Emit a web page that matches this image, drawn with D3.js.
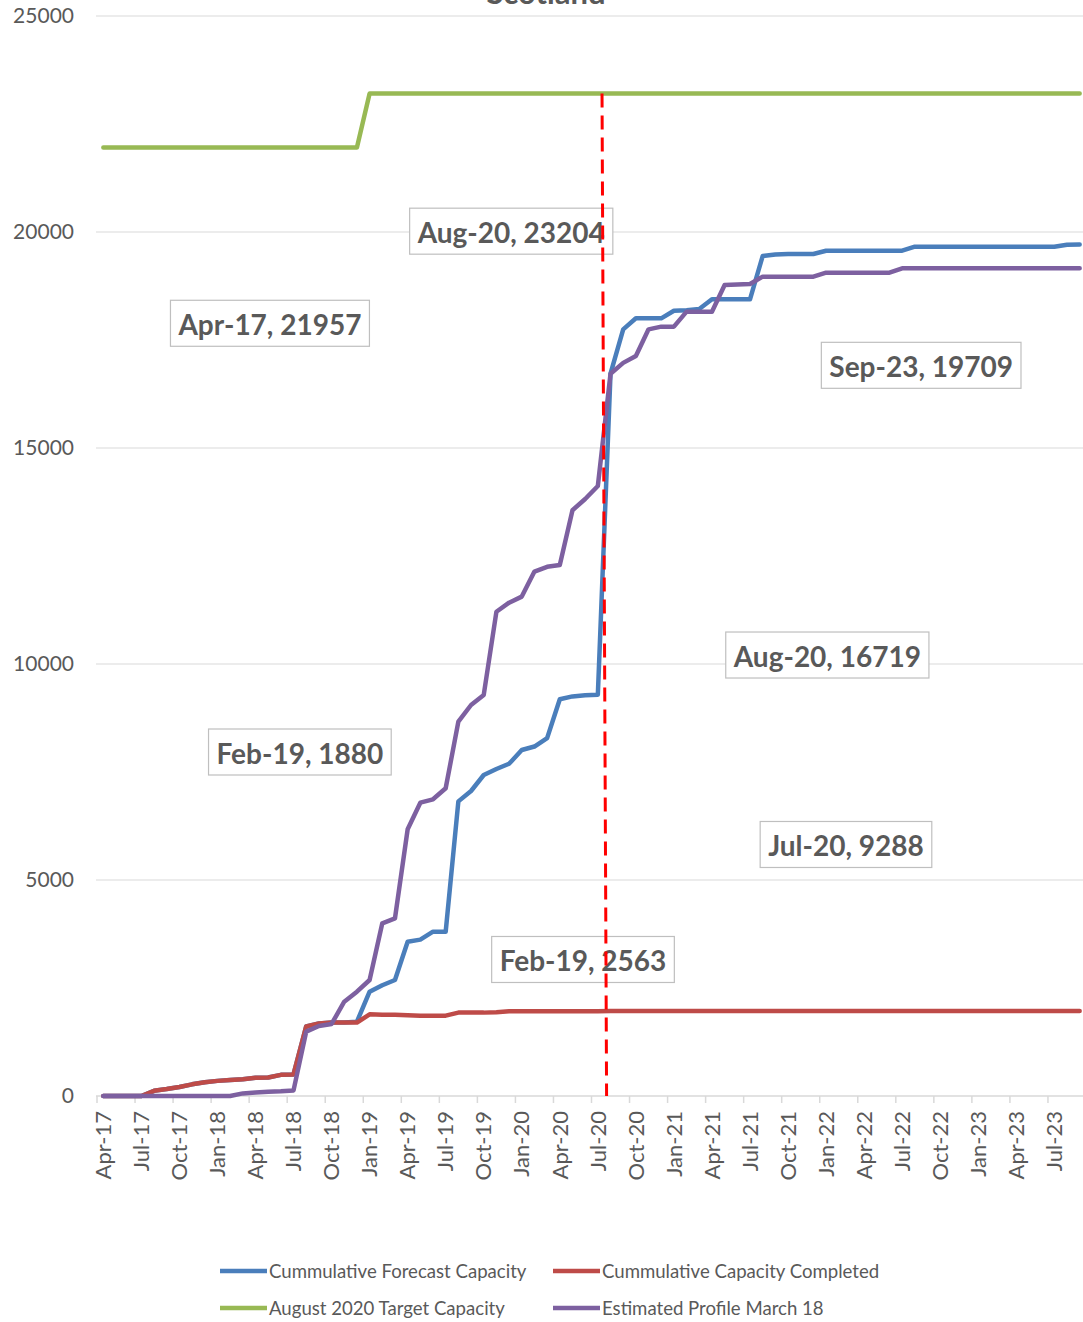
<!DOCTYPE html>
<html>
<head>
<meta charset="utf-8">
<script src="https://cdn.jsdelivr.net/npm/d3@7"></script>
<style>
  body { margin: 0; background: #fff; }
  text { font-family: Lato, "Open Sans", sans-serif; }
</style>
</head>
<body>
<div id="chart"></div>
<script>
// months Apr-17 .. Sep-23 (78 categories)
const months = d3.timeMonth
  .range(new Date(2017, 3, 1), new Date(2023, 9, 1))
  .map(d3.timeFormat("%b-%y"));

const forecast = [
  0, 0, 0, 0, 120, 160, 210, 270, 320, 350, 370, 390, 420, 430, 490, 500,
  1610, 1680, 1700, 1700, 1720, 2414, 2563, 2685, 3572, 3620, 3804, 3804,
  6820, 7060, 7431, 7570, 7690, 8009, 8090, 8285, 9185, 9250, 9275, 9288,
  16719, 17747, 18002, 18002, 18002, 18178, 18190, 18218, 18442, 18442, 18442, 18442,
  19444, 19480, 19490, 19490, 19490, 19567, 19567, 19567, 19567, 19567, 19567, 19567,
  19660, 19660, 19660, 19660, 19660, 19660, 19660, 19660, 19660, 19660, 19660, 19660,
  19706, 19709
];
const completed = [
  0, 0, 0, 0, 120, 160, 210, 270, 320, 350, 370, 390, 420, 430, 490, 500,
  1610, 1680, 1700, 1700, 1700, 1890, 1880, 1880, 1870, 1860, 1860, 1860,
  1930, 1930, 1930, 1940, 1960, 1960, 1960, 1960, 1960, 1960, 1960, 1960,
  1965, 1965, 1965, 1965, 1965, 1965, 1965, 1965, 1965, 1965, 1965, 1965,
  1965, 1965, 1965, 1965, 1965, 1965, 1965, 1965, 1965, 1965, 1965, 1965,
  1965, 1965, 1965, 1965, 1965, 1965, 1965, 1965, 1965, 1965, 1965, 1965,
  1965, 1965
];
const target = [
  21957, 21957, 21957, 21957, 21957, 21957, 21957, 21957, 21957, 21957, 21957, 21957,
  21957, 21957, 21957, 21957, 21957, 21957, 21957, 21957, 21957, 23204, 23204, 23204,
  23204, 23204, 23204, 23204, 23204, 23204, 23204, 23204, 23204, 23204, 23204, 23204,
  23204, 23204, 23204, 23204, 23204, 23204, 23204, 23204, 23204, 23204, 23204, 23204,
  23204, 23204, 23204, 23204, 23204, 23204, 23204, 23204, 23204, 23204, 23204, 23204,
  23204, 23204, 23204, 23204, 23204, 23204, 23204, 23204, 23204, 23204, 23204, 23204,
  23204, 23204, 23204, 23204, 23204, 23204
];
const profile = [
  0, 0, 0, 0, 0, 0, 0, 0, 0, 0, 0, 60, 80, 100, 110, 130,
  1490, 1620, 1667, 2183, 2414, 2685, 3997, 4113, 6173, 6790, 6868, 7123,
  8665, 9051, 9282, 11210, 11420, 11560, 12140, 12250, 12290, 13560, 13820, 14120,
  16719, 16970, 17130, 17747, 17809, 17809, 18156, 18156, 18156, 18773, 18785, 18796,
  18966, 18966, 18966, 18966, 18966, 19058, 19058, 19058, 19058, 19058, 19058, 19160,
  19160, 19160, 19160, 19160, 19160, 19160, 19160, 19160, 19160, 19160, 19160, 19160,
  19160, 19160
];

const seriesNames = [
  "Cummulative Forecast Capacity",
  "Cummulative Capacity Completed",
  "August 2020 Target Capacity",
  "Estimated Profile March 18"
];
const seriesValues = [forecast, completed, target, profile];
const seriesColors = ["#4a7ebb", "#be4b48", "#98b954", "#7d60a0"];

const yTicks = [0, 5000, 10000, 15000, 20000, 25000];

// vertical marker (position in month units, value)
const markerPos = [39.83, 40.19];
const markerVal = [23204, 0];

// data labels: which series / month, and where the box sits (month units, value)
const labelSeries = [2, 2, 0, 3, 1, 0, 0];
const labelMonth = [0, 40, 77, 40, 22, 39, 22];
const labelAtPos = [13.64, 32.67, 65.0, 57.6, 16.0, 59.07, 38.33];
const labelAtVal = [17887, 20019, 16914, 10208, 7963, 5822, 3160];

const width = 1083, height = 1322;

const svg = d3.select("#chart").append("svg")
  .attr("width", width)
  .attr("height", height);

const x = d3.scaleLinear().domain([0, months.length]).range([97, 1086]);
const y = d3.scaleLinear().domain([0, 25000]).range([1096, 16]);

// title (cut off at the top in the original)
svg.append("text")
  .attr("x", 546).attr("y", 4)
  .attr("text-anchor", "middle")
  .style("font-size", "31px").style("font-weight", "bold")
  .style("fill", "#595959")
  .text("Scotland");

// gridlines
svg.append("g")
  .selectAll("line")
  .data(yTicks.slice(1))
  .enter().append("line")
  .attr("x1", x(0) - 1).attr("x2", x(months.length))
  .attr("y1", d => y(d)).attr("y2", d => y(d))
  .style("stroke", "#d9d9d9").style("stroke-width", 1);

// y labels
svg.append("g")
  .selectAll("text")
  .data(yTicks)
  .enter().append("text")
  .attr("x", 74).attr("y", d => y(d))
  .attr("dy", "0.35em")
  .attr("text-anchor", "end")
  .style("font-size", "21px").style("fill", "#595959")
  .text(d => d);

// x axis line + ticks
svg.append("line")
  .attr("x1", x(0) - 1).attr("x2", x(months.length))
  .attr("y1", y(0)).attr("y2", y(0))
  .style("stroke", "#d9d9d9").style("stroke-width", 1.5);

const tickIdx = d3.range(0, months.length, 3);
svg.append("g")
  .selectAll("line")
  .data(tickIdx)
  .enter().append("line")
  .attr("x1", d => x(d)).attr("x2", d => x(d))
  .attr("y1", y(0)).attr("y2", y(0) + 7)
  .style("stroke", "#d9d9d9").style("stroke-width", 1.5);

svg.append("g")
  .selectAll("text")
  .data(tickIdx)
  .enter().append("text")
  .attr("transform", d => "translate(" + x(d + 0.5) + "," + 1111 + ") rotate(-90)")
  .attr("dy", "0.35em")
  .attr("text-anchor", "end")
  .style("font-size", "22px").style("fill", "#595959")
  .text(d => months[d]);

// series lines
const line = d3.line()
  .x((d, i) => x(i + 0.5))
  .y(d => y(d));

svg.append("g")
  .selectAll("path")
  .data(seriesValues)
  .enter().append("path")
  .attr("d", line)
  .style("fill", "none")
  .style("stroke", (d, i) => seriesColors[i])
  .style("stroke-width", 4.5)
  .style("stroke-linejoin", "round")
  .style("stroke-linecap", "round");

// data label boxes
const labels = svg.append("g");
labelSeries.forEach(function(s, k) {
  const cx = x(labelAtPos[k]);
  const cy = y(labelAtVal[k]);
  const g = labels.append("g");
  const rect = g.append("rect");
  const t = g.append("text")
    .attr("x", cx).attr("y", cy + 12)
    .attr("text-anchor", "middle")
    .style("font-size", "28px").style("font-weight", "bold")
    .style("fill", "#595959")
    .text(months[labelMonth[k]] + ", " + seriesValues[s][labelMonth[k]]);
  const w = t.node().getComputedTextLength() + 16;
  rect.attr("x", cx - w / 2).attr("y", cy - 23)
    .attr("width", w).attr("height", 46)
    .style("fill", "#fff")
    .style("stroke", "#bfbfbf").style("stroke-width", 1.2);
});

// red dashed marker
svg.append("path")
  .attr("d", d3.line().x((d, i) => x(markerPos[i])).y(d => y(d))(markerVal))
  .style("fill", "none")
  .style("stroke", "#ff0000")
  .style("stroke-width", 3)
  .style("stroke-dasharray", "14,8");

// legend
const legendX = [220, 553, 220, 553];
const legendY = [1271, 1271, 1308, 1308];
const legend = svg.append("g")
  .selectAll("g")
  .data(seriesNames)
  .enter().append("g")
  .attr("transform", (d, i) => "translate(" + legendX[i] + "," + legendY[i] + ")");

legend.append("line")
  .attr("x1", 0).attr("x2", 47)
  .style("stroke", (d, i) => seriesColors[i])
  .style("stroke-width", 4.5);

legend.append("text")
  .attr("x", 49).attr("dy", "0.35em")
  .style("font-size", "18.6px").style("fill", "#595959")
  .text(d => d);
</script>
</body>
</html>
